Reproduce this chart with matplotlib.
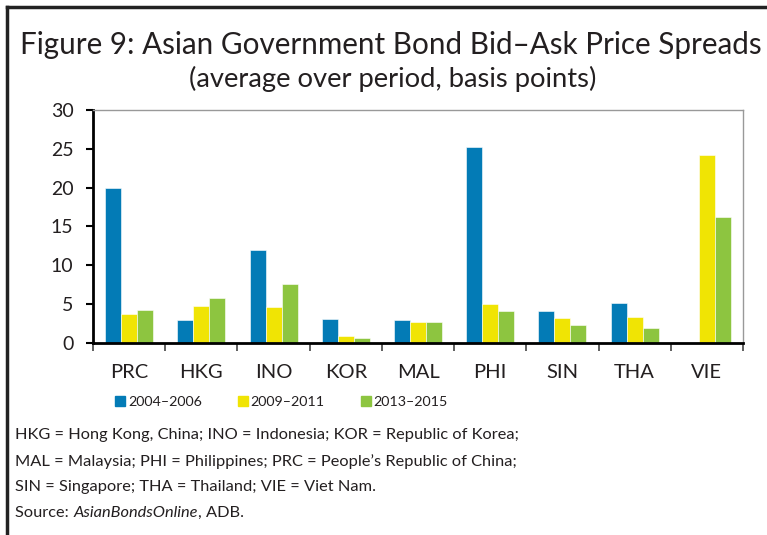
import matplotlib.pyplot as plt
import numpy as np
from matplotlib.lines import Line2D

# data (basis points)
countries = ["PRC", "HKG", "INO", "KOR", "MAL", "PHI", "SIN", "THA", "VIE"]
s2004 = [20.0, 3.0, 12.0, 3.1, 2.9, 25.2, 4.1, 5.15, 0.0]
s2009 = [3.7, 4.75, 4.6, 0.95, 2.75, 5.0, 3.2, 3.3, 24.2]
s2013 = [4.25, 5.8, 7.6, 0.65, 2.65, 4.1, 2.3, 1.9, 16.2]
series_labels = ["2004\u20132006", "2009\u20132011", "2013\u20132015"]
colors = ["#037bb6", "#f0e404", "#8dc540"]

plt.rcParams['font.family'] = ['Lato', 'DejaVu Sans']
txt = "#231f20"

fig = plt.figure(figsize=(7.67, 5.35), dpi=100)
ax = fig.add_axes([0.1213, 0.3589, 0.8474, 0.4355])

x = np.arange(len(countries))
w = 0.222
for i, vals in enumerate([s2004, s2009, s2013]):
    ax.bar(x + (i - 1) * w, vals, width=w, color=colors[i],
           edgecolor="white", linewidth=0.4, label=series_labels[i])

ax.set_xlim(-0.5, len(countries) - 0.5)
ax.set_ylim(0, 30)
ax.set_yticks(range(0, 31, 5))
ax.set_xticks(x)
ax.set_xticklabels(countries)
ax.set_xticks(np.arange(-0.5, len(countries), 1), minor=True)
ax.tick_params(axis="x", which="major", length=0, pad=15, labelsize=14.5,
               labelcolor=txt)
ax.tick_params(axis="x", which="minor", length=6, width=1.2, color="#444444")
ax.tick_params(axis="y", length=5, width=1.5, labelsize=14, pad=9,
               labelcolor=txt)

for side in ["left", "bottom"]:
    ax.spines[side].set_linewidth(2)
    ax.spines[side].set_color("black")
for side in ["top", "right"]:
    ax.spines[side].set_linewidth(1)
    ax.spines[side].set_color("#999999")

# titles
fig.text(0.510, 0.915, "Figure 9: Asian Government Bond Bid\u2013Ask Price Spreads",
         ha="center", va="center", fontsize=21.3, color=txt)
fig.text(0.512, 0.853, "(average over period, basis points)",
         ha="center", va="center", fontsize=19.7, color=txt)

# legend
handles = [Line2D([0], [0], marker="s", linestyle="none", markersize=7,
                  markerfacecolor=c, markeredgecolor=c) for c in colors]
fig.legend(handles, series_labels, loc="center", bbox_to_anchor=(0.368, 0.249),
           ncol=3, frameon=False, fontsize=10.3, handlelength=0.5,
           handletextpad=0.3, columnspacing=2.6, labelcolor=txt)

# notes
notes = [
    "HKG = Hong Kong, China; INO = Indonesia; KOR = Republic of Korea;",
    "MAL = Malaysia; PHI = Philippines; PRC = People\u2019s Republic of China;",
    "SIN = Singapore; THA = Thailand; VIE = Viet Nam.",
]
nfs = 11.8
y0, dy = 0.186, 0.048
for k, line in enumerate(notes):
    fig.text(0.02, y0 - k * dy, line, ha="left", va="center",
             fontsize=nfs, color=txt)
ys = y0 - 3 * dy
t = fig.text(0.02, ys, "Source: ", ha="left", va="center", fontsize=nfs, color=txt)
fig.canvas.draw()
bb = t.get_window_extent()
t2 = fig.text(bb.x1 / fig.bbox.width, ys, "AsianBondsOnline", ha="left", va="center",
              fontsize=nfs, style="italic", color=txt)
bb2 = t2.get_window_extent()
fig.text(bb2.x1 / fig.bbox.width, ys, ", ADB.", ha="left",
         va="center", fontsize=nfs, color=txt)

# frame lines (top and left)
fig.add_artist(Line2D([0.009, 1.0], [0.987, 0.987], color="#222222", linewidth=2.5))
fig.add_artist(Line2D([0.009, 0.009], [0.0, 0.987], color="#222222", linewidth=2.5))

fig.savefig("out.png", dpi=100)
